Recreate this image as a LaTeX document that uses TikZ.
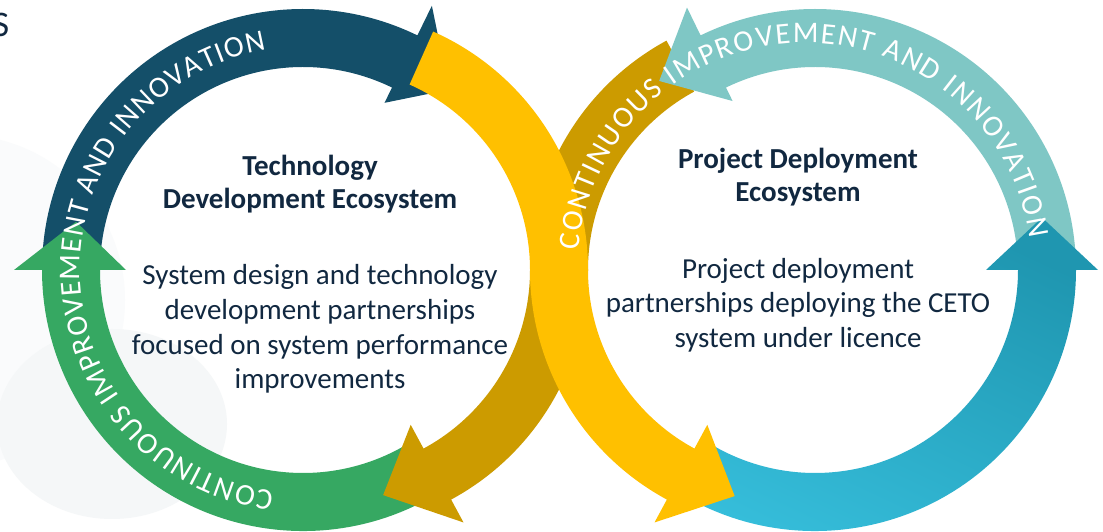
\documentclass[tikz,border=0pt]{standalone}
\usepackage{fontspec}
\setmainfont{Carlito}
\usetikzlibrary{calc,decorations.text}
\definecolor{navyc}{HTML}{144F69}
\definecolor{greenc}{HTML}{36A862}
\definecolor{goldc}{HTML}{CC9B00}
\definecolor{yellowc}{HTML}{FFC000}
\definecolor{tealc}{HTML}{7FC7C5}
\definecolor{cyanlight}{HTML}{36BEDB}
\definecolor{cyandark}{HTML}{1F96B0}
\definecolor{txt}{HTML}{112840}
\definecolor{paleA}{HTML}{F5F7F8}
\definecolor{paleB}{HTML}{FAFBFC}
\tikzset{
  arctext/.style={decorate, decoration={text along path, text align=fit to path,
      text color=white, text={|\fontsize{30}{30}\selectfont|CONTINUOUS IMPROVEMENT AND INNOVATION}}},
  titletext/.style={align=center, text=txt, font=\bfseries\fontsize{29}{33}\selectfont, inner sep=0pt},
  bodytext/.style={align=center, text=txt, font=\fontsize{29}{34.7}\selectfont, inner sep=0pt}
}
\begin{document}
\begin{tikzpicture}[x=1pt,y=1pt]
\useasboundingbox (0,0) rectangle (1103,532);
\fill[white] (0,0) rectangle (1103,532);
% faint background shapes
\fill[paleB] (-40,232) circle[radius=165];
\fill[paleA] (112,108) ellipse[x radius=115, y radius=95];
% centres
\coordinate (L) at (303,262);
\coordinate (R) at (815,262);
\coordinate (YL) at (327,262);
\coordinate (YR) at (791,262);
\coordinate (RT) at (805,262);
% navy
\fill[navyc] ($(L)+(178:261)$) arc[start angle=178,end angle=64,radius=261]
  -- ($(L)+(64:294)$) -- ($(L)+(51:232)$) -- ($(L)+(64:186)$) -- ($(L)+(64:203)$)
  arc[start angle=64,end angle=178,radius=203] -- cycle;
% green
\fill[greenc] ($(L)+(-58:261)$) arc[start angle=-58,end angle=-180,radius=261]
  -- ($(L)+(180:289)$) -- ($(L)+(168:232)$) -- ($(L)+(180:177)$) -- ($(L)+(180:203)$)
  arc[start angle=-180,end angle=-58,radius=203] -- cycle;
% gold S
\fill[goldc] ($(YR)+(118.5:261)$) arc[start angle=118.5,end angle=180,radius=261]
  arc[start angle=0,end angle=-61.6,radius=203]
  -- ($(YL)+(-61.6:176)$) -- ($(YL)+(-76:232)$) -- ($(YL)+(-61.6:287)$) -- ($(YL)+(-61.6:261)$)
  arc[start angle=-61.6,end angle=0,radius=261]
  arc[start angle=180,end angle=118.5,radius=203] -- cycle;
% teal
\fill[tealc] ($(R)+(4:261)$) arc[start angle=4,end angle=116,radius=261]
  -- ($(R)+(116:292)$) -- ($(R)+(129.5:245)$) -- ($(R)+(116:188)$) -- ($(R)+(116:203)$)
  arc[start angle=116,end angle=4,radius=203] -- cycle;
% cyan
\shade[top color=cyandark, bottom color=cyanlight, shading angle=-25]
  ($(R)+(-122:261)$) arc[start angle=-122,end angle=0,radius=261]
  -- ($(R)+(0:283)$) -- ($(R)+(13:233)$) -- ($(R)+(0:171)$) -- ($(R)+(0:203)$)
  arc[start angle=0,end angle=-122,radius=203] -- cycle;
% yellow S
\fill[yellowc] ($(YL)+(66:261)$) arc[start angle=66,end angle=0,radius=261]
  arc[start angle=180,end angle=241.6,radius=203]
  -- ($(YR)+(241.6:176)$) -- ($(YR)+(256:233)$) -- ($(YR)+(241.6:287)$) -- ($(YR)+(241.6:261)$)
  arc[start angle=241.6,end angle=180,radius=261]
  arc[start angle=0,end angle=66,radius=203] -- cycle;
% ring texts
\path[arctext] ($(L)+(262.5:223)$) arc[start angle=262.5,end angle=99.5,radius=223];
\path[arctext] ($(RT)+(175:227)$) arc[start angle=175,end angle=8,radius=227];
% labels
\node[titletext] (ltitle) at (310,347.5) {Technology\\Development Ecosystem};
\node[bodytext] (lbody) at (320,203) {System design and technology\\development partnerships\\focused on system performance\\improvements};
\node[titletext] (rtitle) at (798,354.5) {Project Deployment\\Ecosystem};
\node[bodytext] (rbody) at (798,227) {Project deployment\\partnerships deploying the CETO\\system under licence};
\node[anchor=base west, inner sep=0pt, text=txt, font=\fontsize{36}{36}\selectfont] (cornerS) at (-7.5,495) {S};
\end{tikzpicture}
\end{document}
